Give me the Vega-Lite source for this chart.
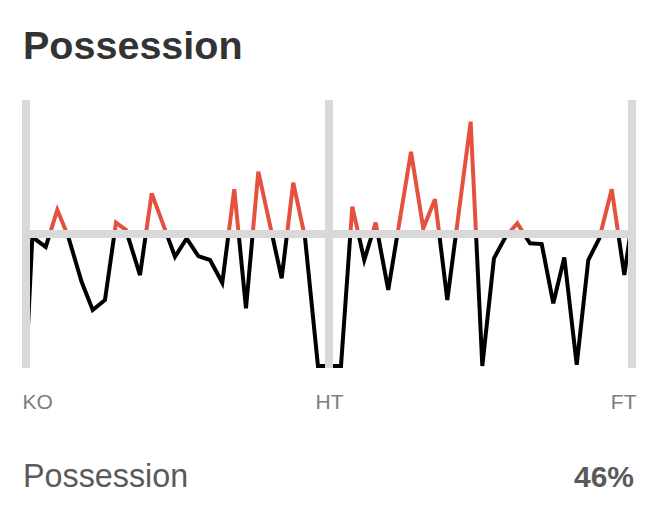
{
  "$schema": "https://vega.github.io/schema/vega-lite/v6.json",
  "width": 606,
  "height": 268,
  "autosize": {"type": "none"},
  "padding": {"left": 26, "top": 100, "right": 28, "bottom": 154},
  "background": "#ffffff",
  "view": {"stroke": null},
  "datasets": {
    "series": [
      {"minute": 0.3, "value": -70},
      {"minute": 0.94, "value": -2.3},
      {"minute": 2.93, "value": -9.8},
      {"minute": 4.65, "value": 18.2},
      {"minute": 6.24, "value": -1.5},
      {"minute": 8.27, "value": -36.4},
      {"minute": 9.91, "value": -57.6},
      {"minute": 11.73, "value": -50},
      {"minute": 13.37, "value": 8.6},
      {"minute": 14.85, "value": 3.0},
      {"minute": 16.93, "value": -31.1},
      {"minute": 18.67, "value": 30.8},
      {"minute": 22.13, "value": -17.2},
      {"minute": 23.86, "value": -3.3},
      {"minute": 25.59, "value": -16.7},
      {"minute": 27.33, "value": -19.7},
      {"minute": 29.15, "value": -36.9},
      {"minute": 30.93, "value": 33.9},
      {"minute": 32.67, "value": -56.3},
      {"minute": 34.5, "value": 47.2},
      {"minute": 37.97, "value": -33.6},
      {"minute": 39.69, "value": 38.9},
      {"minute": 41.43, "value": -2.5},
      {"minute": 43.36, "value": -100},
      {"minute": 45.0, "value": -100},
      {"minute": 46.78, "value": -100},
      {"minute": 48.46, "value": 20.7},
      {"minute": 50.24, "value": -19.7},
      {"minute": 51.93, "value": 8.6},
      {"minute": 53.8, "value": -42.4},
      {"minute": 57.18, "value": 62.3},
      {"minute": 59.0, "value": 4.3},
      {"minute": 60.74, "value": 26.3},
      {"minute": 62.57, "value": -50},
      {"minute": 66.04, "value": 85.1},
      {"minute": 67.77, "value": -100},
      {"minute": 69.5, "value": -18.4},
      {"minute": 71.24, "value": -2.0},
      {"minute": 72.97, "value": 8.1},
      {"minute": 74.85, "value": -7.0},
      {"minute": 76.59, "value": -7.6},
      {"minute": 78.31, "value": -52.5},
      {"minute": 79.95, "value": -17.7},
      {"minute": 81.79, "value": -99},
      {"minute": 83.51, "value": -19.7},
      {"minute": 85.15, "value": -3.3},
      {"minute": 86.99, "value": 33.9},
      {"minute": 88.86, "value": -31.1},
      {"minute": 89.7, "value": -1.5}
    ],
    "markers": [
      {"label": "KO", "minute": 0},
      {"label": "HT", "minute": 45},
      {"label": "FT", "minute": 90}
    ],
    "texts": [
      {"title": "Possession", "name": "Possession", "share": "46%"}
    ]
  },
  "layer": [
    {
      "data": {"name": "series"},
      "mark": {
        "type": "line",
        "strokeWidth": 4,
        "strokeJoin": "miter",
        "stroke": {
          "gradient": "linear",
          "x1": 0, "y1": 0, "x2": 0, "y2": 1,
          "stops": [
            {"offset": 0, "color": "#e4523f"},
            {"offset": 0.4597, "color": "#e4523f"},
            {"offset": 0.4597, "color": "#000000"},
            {"offset": 1, "color": "#000000"}
          ]
        }
      },
      "encoding": {
        "x": {
          "field": "minute",
          "type": "quantitative",
          "scale": {"domain": [0, 90], "nice": false, "zero": false},
          "axis": {
            "values": [0, 45, 90],
            "labelExpr": "datum.value == 0 ? 'KO' : datum.value == 45 ? 'HT' : 'FT'",
            "title": null,
            "domain": false,
            "ticks": false,
            "grid": false,
            "labelFlush": true,
            "labelFlushOffset": 4,
            "labelFont": "Liberation Sans",
            "labelFontSize": 21,
            "labelColor": "#7d7d7d",
            "labelBaseline": "alphabetic",
            "labelPadding": 40
          }
        },
        "y": {
          "field": "value",
          "type": "quantitative",
          "scale": {"domain": [-101.5, 101.5], "nice": false, "zero": false},
          "axis": null
        }
      }
    },
    {
      "data": {"name": "markers"},
      "mark": {"type": "rule", "color": "#d8d9d8", "strokeWidth": 8},
      "encoding": {"y": {"datum": 0, "type": "quantitative"}}
    },
    {
      "data": {"name": "markers"},
      "mark": {"type": "rule", "color": "#d8d9d8", "strokeWidth": 8},
      "encoding": {"x": {"field": "minute", "type": "quantitative"}}
    },
    {
      "data": {"name": "texts"},
      "mark": {"type": "text", "align": "left", "baseline": "alphabetic", "font": "Liberation Sans", "fontSize": 39.5, "fontWeight": "bold", "color": "#333333", "dx": -3, "clip": false},
      "encoding": {
        "x": {"datum": 0, "type": "quantitative"},
        "y": {"datum": 132.6, "type": "quantitative"},
        "text": {"field": "title"}
      }
    },
    {
      "data": {"name": "texts"},
      "mark": {"type": "text", "align": "left", "baseline": "alphabetic", "font": "Liberation Sans", "fontSize": 32.3, "color": "#5a5a5a", "dx": -3, "clip": false},
      "encoding": {
        "x": {"datum": 0, "type": "quantitative"},
        "y": {"datum": -191.4, "type": "quantitative"},
        "text": {"field": "name"}
      }
    },
    {
      "data": {"name": "texts"},
      "mark": {"type": "text", "align": "right", "baseline": "alphabetic", "font": "Liberation Sans", "fontSize": 30, "fontWeight": "bold", "color": "#5a5a5a", "dx": 2, "clip": false},
      "encoding": {
        "x": {"datum": 90, "type": "quantitative"},
        "y": {"datum": -191.4, "type": "quantitative"},
        "text": {"field": "share"}
      }
    }
  ]
}
